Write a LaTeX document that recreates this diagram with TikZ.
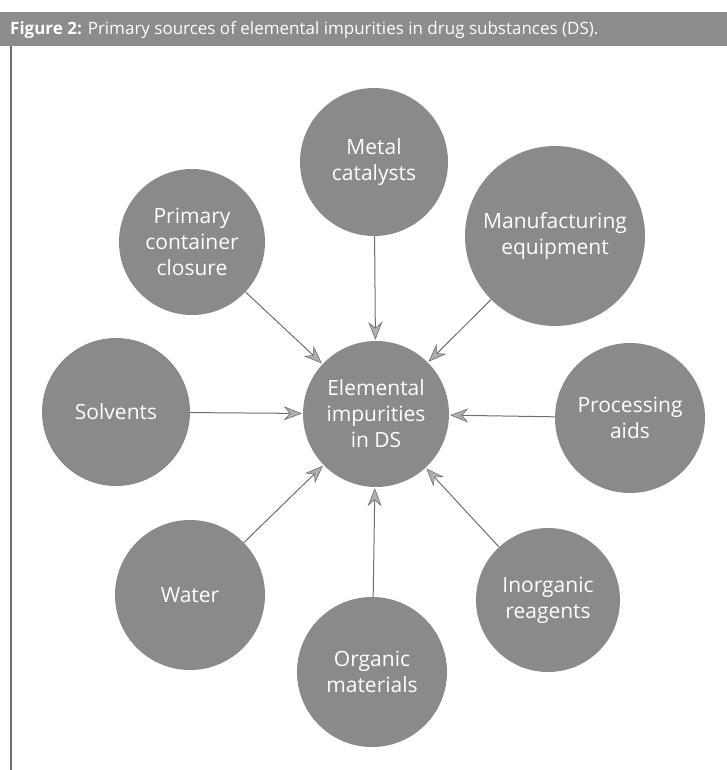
\documentclass[tikz,border=0pt]{standalone}
\usepackage{fontspec}
\setmainfont{Open Sans}
\usetikzlibrary{arrows.meta}
\definecolor{discgray}{RGB}{138,138,138}
\definecolor{bargray}{RGB}{140,140,140}
\definecolor{linegray}{RGB}{110,110,110}
\definecolor{headgray}{RGB}{175,175,175}
\begin{document}
\begin{tikzpicture}[x=1pt,y=-1pt,
  disc/.style={circle,fill=discgray,text=white,align=center,inner sep=0pt,
    font=\fontsize{21}{26}\selectfont,minimum size=#1},
  feed/.style={draw=linegray,line width=1pt,
    -{Stealth[length=18pt,width=14pt,inset=6pt,fill=headgray,line width=0.6pt]},
    shorten >=1pt}]
  \useasboundingbox (0,0) rectangle (727,770);
  \fill[white] (0,0) rectangle (727,770);
  % caption bar
  \fill[bargray] (0,12) rectangle (727,46);
  \node[anchor=west,text=white,inner sep=0pt,font=\fontsize{17}{20}\selectfont] (title) at (10,30)
    {\textbf{Figure 2:} Primary sources of elemental impurities in drug substances (DS).};
  \coordinate (ruletop) at (11,46);
  \coordinate (rulebot) at (11,770);
  \draw[linegray,line width=1.2pt] (ruletop) -- (rulebot);
  % central disc
  \node[disc=146pt] (ctr) at (376,414) {Elemental\\impurities\\in DS};
  % sources
  \node[disc=148pt] (metal) at (374,162) {Metal\\catalysts};
  \node[disc=146pt] (prim) at (192,242) {Primary\\container\\closure};
  \node[disc=180pt] (manu) at (555,236) {Manufacturing\\equipment};
  \node[disc=148pt] (solv) at (116,412) {Solvents};
  \node[disc=150pt] (proc) at (630,418) {Processing\\aids};
  \node[disc=150pt] (water) at (190,595) {Water};
  \node[disc=150pt] (org) at (372,672) {Organic\\materials};
  \node[disc=144pt] (inorg) at (548,600) {Inorganic\\reagents};
  % connectors
  \foreach \s in {metal,prim,manu,solv,proc,water,org,inorg}
    \draw[feed] (\s) -- (ctr);
\end{tikzpicture}
\end{document}
